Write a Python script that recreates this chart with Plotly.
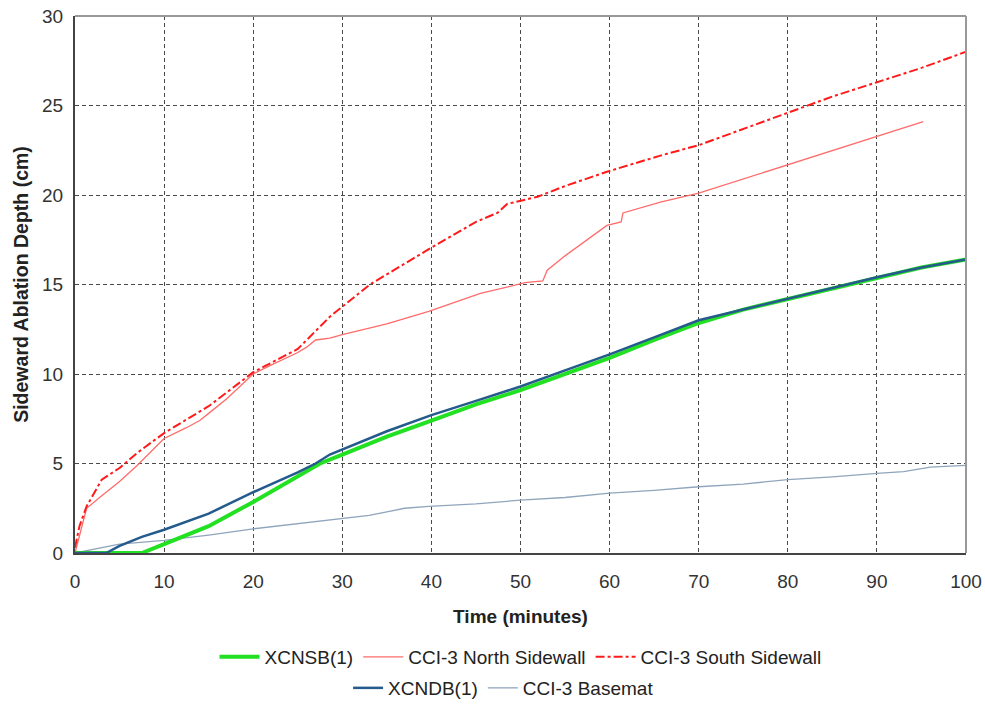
import plotly.graph_objects as go

# ---------------- data ----------------
t_xcnsb = [0, 7.5, 10, 15, 20, 25, 27.5, 30, 35, 40, 45, 50, 55, 60, 65, 70, 75, 80, 85, 90, 95, 100]
d_xcnsb = [0, 0, 0.5, 1.5, 2.85, 4.3, 5.0, 5.5, 6.5, 7.4, 8.3, 9.1, 10.0, 10.9, 11.9, 12.85, 13.6, 14.2, 14.8, 15.4, 15.95, 16.4]

t_north = [0, 0.5, 1.3, 3, 5, 7, 10, 12.5, 14, 15, 17, 20, 22, 25, 26, 27, 28.6, 30, 35, 39.7, 45.5, 50.5, 52.5, 53, 55, 59.7, 61.3, 61.5, 65.7, 70, 75, 80, 85, 90, 95.2]
d_north = [0, 1.0, 2.5, 3.2, 4.0, 4.9, 6.4, 7.0, 7.4, 7.8, 8.6, 10.0, 10.5, 11.2, 11.5, 11.9, 12.0, 12.2, 12.8, 13.5, 14.5, 15.1, 15.2, 15.8, 16.6, 18.3, 18.5, 19.0, 19.6, 20.1, 20.9, 21.7, 22.5, 23.3, 24.1]

t_south = [0, 0.5, 1.3, 3, 5, 7, 10, 15, 20, 25, 28.6, 33.1, 39.8, 45, 47.4, 48.5, 51.9, 55, 59.7, 65.7, 70.1, 75, 80, 85, 90, 95, 100]
d_south = [0.3, 1.5, 2.6, 4.1, 4.75, 5.6, 6.7, 8.2, 10.1, 11.4, 13.2, 15.0, 17.0, 18.5, 19.0, 19.5, 19.9, 20.5, 21.3, 22.2, 22.8, 23.7, 24.6, 25.5, 26.3, 27.1, 28.0]

t_xcndb = [0, 3.5, 5, 7.5, 10, 15, 20, 25, 27, 28.6, 35, 40, 45, 50, 55, 60, 65, 70, 75, 80, 85, 90, 95, 100]
d_xcndb = [0, 0, 0.4, 0.9, 1.3, 2.2, 3.4, 4.5, 5.0, 5.5, 6.8, 7.7, 8.5, 9.3, 10.2, 11.1, 12.05, 13.0, 13.6, 14.2, 14.8, 15.4, 15.95, 16.4]

t_base = [0, 5, 10, 15, 20, 25, 28.6, 33, 35, 37, 39.7, 45, 50, 55, 60, 65, 70, 75, 80, 85, 90, 93, 96, 100]
d_base = [0, 0.5, 0.7, 1.0, 1.35, 1.65, 1.85, 2.1, 2.3, 2.5, 2.6, 2.75, 2.95, 3.1, 3.35, 3.5, 3.7, 3.85, 4.1, 4.25, 4.45, 4.55, 4.8, 4.9]

x_ticks = [0, 10, 20, 30, 40, 50, 60, 70, 80, 90, 100]
y_ticks = [0, 5, 10, 15, 20, 25, 30]

# ---------------- figure ----------------
FONT = "Arial, Liberation Sans, sans-serif"
fig = go.Figure()

fig.add_trace(go.Scatter(x=t_base, y=d_base, mode="lines", name="CCI-3 Basemat",
                         line=dict(color="#8fa5bc", width=1.3), legend="legend2", legendrank=2))
fig.add_trace(go.Scatter(x=t_north, y=d_north, mode="lines", name="CCI-3 North Sidewall",
                         line=dict(color="#ff6b6b", width=1.3), legend="legend", legendrank=2))
fig.add_trace(go.Scatter(x=t_south, y=d_south, mode="lines", name="CCI-3 South Sidewall",
                         line=dict(color="#ff1a1a", width=2, dash="dashdot"), legend="legend", legendrank=3))
fig.add_trace(go.Scatter(x=t_xcnsb, y=d_xcnsb, mode="lines", name="XCNSB(1)",
                         line=dict(color="#22e022", width=4), legend="legend", legendrank=1))
fig.add_trace(go.Scatter(x=t_xcndb, y=d_xcndb, mode="lines", name="XCNDB(1)",
                         line=dict(color="#245a8c", width=2.5), legend="legend2", legendrank=1))

axis_common = dict(
    showgrid=True, gridcolor="#4a4a4a", griddash="4px,3px", gridwidth=1,
    zeroline=False, showline=True, linecolor="#444444", linewidth=2,
    ticks="", tickfont=dict(family=FONT, size=19, color="#333333"),
    mirror=False, automargin=False, ticklabeloverflow="allow",
)

fig.update_layout(
    width=985, height=705,
    margin=dict(l=75, r=19, t=16, b=152),
    paper_bgcolor="white", plot_bgcolor="white",
    font=dict(family=FONT, color="#222222"),
    xaxis=dict(axis_common, range=[0, 100], tickvals=x_ticks, ticklabelstandoff=10,
               title=dict(text="<b>Time (minutes)</b>", font=dict(size=19, color="#222222"), standoff=19)),
    yaxis=dict(axis_common, range=[0, 30], tickvals=y_ticks, ticklabelstandoff=6,
               title=dict(text="<b>Sideward Ablation Depth (cm)</b>", font=dict(size=19.5, color="#222222"), standoff=8)),
    legend=dict(orientation="h", x=0.5, xanchor="center", yref="container", y=0.0681, yanchor="middle",
                itemwidth=40, font=dict(size=19, color="#222222"), bgcolor="rgba(0,0,0,0)", traceorder="normal"),
    legend2=dict(orientation="h", x=0.481, xanchor="center", yref="container", y=0.0241, yanchor="middle",
                 itemwidth=30, font=dict(size=19, color="#222222"), bgcolor="rgba(0,0,0,0)", traceorder="normal"),
    showlegend=True,
)

# grey top/right frame
fig.add_shape(type="line", xref="paper", yref="paper", x0=0, x1=1, y0=1, y1=1,
              line=dict(color="#999999", width=2))
fig.add_shape(type="line", xref="paper", yref="paper", x0=1, x1=1, y0=0, y1=1,
              line=dict(color="#999999", width=2))

fig.write_html("out.html", config={"displayModeBar": False},
               post_script="document.body.style.margin='0';document.body.style.overflow='hidden';")
